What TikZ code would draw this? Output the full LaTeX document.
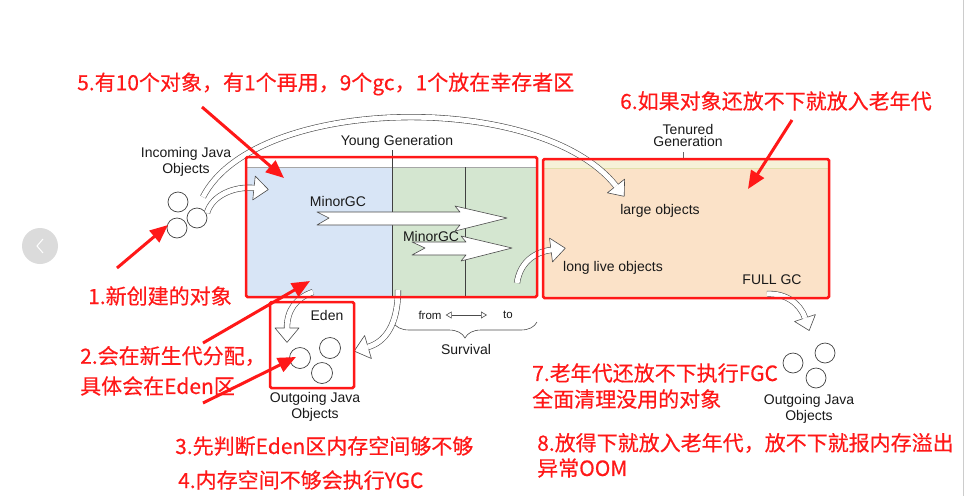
\documentclass[tikz,border=0pt]{standalone}
\usepackage{fontspec}
\setmainfont{Liberation Sans}
\newfontfamily\cjk[FakeBold=0.4]{Noto Sans CJK SC}
\usetikzlibrary{positioning}
\usetikzlibrary{arrows.meta}
\usetikzlibrary{decorations.markings}
\usetikzlibrary{decorations.pathreplacing}

\definecolor{annred}{RGB}{255,24,24}
\definecolor{edenblue}{RGB}{216,229,246}
\definecolor{survgreen}{RGB}{212,230,208}
\definecolor{tenpeach}{RGB}{251,226,200}
\definecolor{tenstrip}{RGB}{246,242,216}

% hollow arrow head: shaft width, half width, length
\newcommand{\hollowhead}[3]{%
  \fill[white] (0,-#2) -- (#3,0) -- (0,#2) -- cycle;
  \draw[black!70, line width=0.6pt, line join=round]
    (0,#1/2) -- (0,#2) -- (#3,0) -- (0,-#2) -- (0,-#1/2);
}

\tikzset{
  gentext/.style={text=black!90, inner sep=0pt, font=\fontsize{14}{16}\selectfont},
  smalltext/.style={text=black!90, inner sep=0pt, font=\fontsize{11.5}{13}\selectfont},
  redtext/.style={text=annred, inner sep=0pt, anchor=west, font=\cjk\fontsize{21}{25}\selectfont},
  redarrow/.style={annred, line width=3pt, -{Triangle[length=18pt,width=15pt]}},
  redframe/.style={draw=annred, line width=2.5pt, rounded corners=1.5pt},
  ball/.style={circle, draw=black!75, line width=0.7pt, minimum size=20pt, inner sep=0pt},
  block/.style={fill=white, draw=black!70, line width=0.6pt, line join=round},
  hollow/.style={white, line width=5pt,
    preaction={draw=black!70, line width=6.2pt},
    postaction={decorate, decoration={markings,
      mark=at position 0.9999 with {\hollowhead{5pt}{#1}{1.2*#1}}}}},
  hollow/.default=11pt
}

\begin{document}
\begin{tikzpicture}[x=1pt, y=-1pt]

  \useasboundingbox (0,0) rectangle (964,496);
  \draw[black!20] (963,0) -- (963,496);

  % page button
  \node[circle, fill=black!14, minimum size=36pt, inner sep=0pt] (prev) at (40,246) {};
  \draw[white, line width=1pt] (43,239) -- (37,246) -- (43,253);

  % young generation
  \fill[white] (246,157) rectangle (537,297);
  \fill[edenblue] (246,167) rectangle (392,297);
  \fill[survgreen] (392,167) rectangle (537,297);
  \draw[black!35] (246,167) -- (537,167);
  \node[gentext] (young) at (397,142) {Young Generation};
  \draw[black!75] (392,150) -- (392,297);
  \draw[black!75] (465,167) -- (465,297);

  % tenured generation
  \fill[tenpeach] (543,159) rectangle (829,297);
  \fill[tenstrip] (543,159) rectangle (829,168);
  \draw[olive!25] (543,168) -- (829,168);
  \node[gentext] (tenured) at (688,129) {Tenured};
  \node[gentext, below=2pt of tenured] (tenured2) {Generation};
  \draw[black!60] (683,152) -- (683,159);

  \node[gentext] (large) at (660,211) {large objects};
  \node[gentext] (longlive) at (613,268) {long live objects};
  \node[gentext] (fullgc) at (772,280) {FULL GC};

  % incoming objects
  \node[gentext] (incoming) at (186,154) {Incoming Java};
  \node[gentext, below=2pt of incoming] (incoming2) {Objects};
  \node[ball] (in1) at (178,202) {};
  \node[ball] (in2) at (177,228) {};
  \node[ball] (in3) at (197,218) {};

  % minor gc
  \node[gentext] (minor1) at (338,201) {MinorGC};
  \node[gentext] (minor2) at (431,236) {MinorGC};
  \draw[block] (317,212) -- (329,218) -- (317,225) -- (460,225) -- (455,231)
    -- (507,218) -- (455,206) -- (460,212) -- cycle;
  \draw[block] (412,242) -- (425,248) -- (412,255) -- (466,255) -- (461,261)
    -- (512,248) -- (461,236) -- (466,242) -- cycle;

  % eden box
  \node[gentext] (eden) at (327,315) {Eden};
  \node[ball, minimum size=21pt] (out1) at (300,358) {};
  \node[ball, minimum size=21pt] (out2) at (330,348) {};
  \node[ball, minimum size=21pt] (out3) at (322,373) {};
  \node[gentext] (outgoing) at (315,399) {Outgoing Java};
  \node[gentext, below=2pt of outgoing] (outgoing2) {Objects};

  % survival
  \node[smalltext] (from) at (430,315) {from};
  \node[smalltext] (to) at (508,315) {to};
  \draw[black!70, line width=0.6pt, {Triangle[open,length=6pt,width=7pt]}-{Triangle[open,length=6pt,width=7pt]}]
    ([xshift=4pt]from.east) -- ([xshift=-16pt]to.west);
  \draw[black!70, line width=0.6pt, decorate, decoration={brace, amplitude=16pt}]
    (537,322) -- (393,322);
  \node[gentext] (survival) at (466,349) {Survival};

  % outgoing objects
  \node[ball] (old1) at (793,363) {};
  \node[ball] (old2) at (825,353) {};
  \node[ball] (old3) at (816,378) {};
  \node[gentext] (outgoingr) at (809,401) {Outgoing Java};
  \node[gentext, below=2pt of outgoingr] (outgoingr2) {Objects};

  % hollow arrows
  \coordinate (arcstart) at (203,197);
  \coordinate (arcend) at (616,186);
  \draw[hollow] (arcstart) .. controls (255,95) and (540,90) .. (arcend);
  \coordinate (inarrow) at (207,213);
  \coordinate (inend) at (254,188);
  \draw[hollow=12pt] (inarrow) .. controls (212,195) and (235,186) .. (inend);
  \coordinate (survstart) at (517,283);
  \coordinate (survend) at (551,250);
  \draw[hollow=12pt] (survstart) .. controls (520,262) and (535,252) .. (survend);
  \coordinate (fullstart) at (767,294);
  \coordinate (fullend) at (805,318);
  \draw[hollow] (fullstart) .. controls (785,293) and (800,303) .. (fullend);
  \coordinate (edenstart) at (313,292);
  \coordinate (edenend) at (287,328);
  \draw[hollow=12pt] (edenstart) .. controls (296,298) and (287,310) .. (edenend);
  \coordinate (backstart) at (398,290);
  \coordinate (backend) at (368,347);
  \draw[hollow=12pt] (backstart) .. controls (398,325) and (385,342) .. (backend);

  % red frames
  \draw[redframe] (246,157) rectangle (537,297);
  \draw[redframe] (543,159) rectangle (829,298);
  \draw[redframe] (270,302) rectangle (354,388);

  % notes
  \node[redtext] (note5) at (77,84) {5.有10个对象，有1个再用，9个gc，1个放在幸存者区};
  \node[redtext] (note6) at (620,101) {6.如果对象还放不下就放入老年代};
  \node[redtext] (note1) at (88,296) {1.新创建的对象};
  \node[redtext] (note2) at (80,356) {2.会在新生代分配，};
  \node[redtext] (note2b) at (80,386) {具体会在Eden区};
  \node[redtext] (note3) at (175,446) {3.先判断Eden区内存空间够不够};
  \node[redtext] (note4) at (178,480) {4.内存空间不够会执行YGC};
  \node[redtext] (note7) at (532,373) {7.老年代还放不下执行FGC};
  \node[redtext] (note7b) at (532,399) {全面清理没用的对象};
  \node[redtext] (note8) at (537,443) {8.放得下就放入老年代，放不下就报内存溢出};
  \node[redtext] (note8b) at (537,468) {异常OOM};

  \coordinate (r5a) at (202,107);
  \coordinate (r5b) at (284,178);
  \coordinate (r6a) at (792,120);
  \coordinate (r6b) at (748,189);
  \coordinate (r1a) at (117,268);
  \coordinate (r1b) at (168,225);
  \coordinate (r2a) at (203,343);
  \coordinate (r2b) at (310,281);
  \coordinate (r2c) at (203,403);
  \coordinate (r2d) at (296,357);
  \draw[redarrow] (r5a) -- (r5b);
  \draw[redarrow] (r6a) -- (r6b);
  \draw[redarrow] (r1a) -- (r1b);
  \draw[redarrow] (r2a) -- (r2b);
  \draw[redarrow] (r2c) -- (r2d);

\end{tikzpicture}
\end{document}
